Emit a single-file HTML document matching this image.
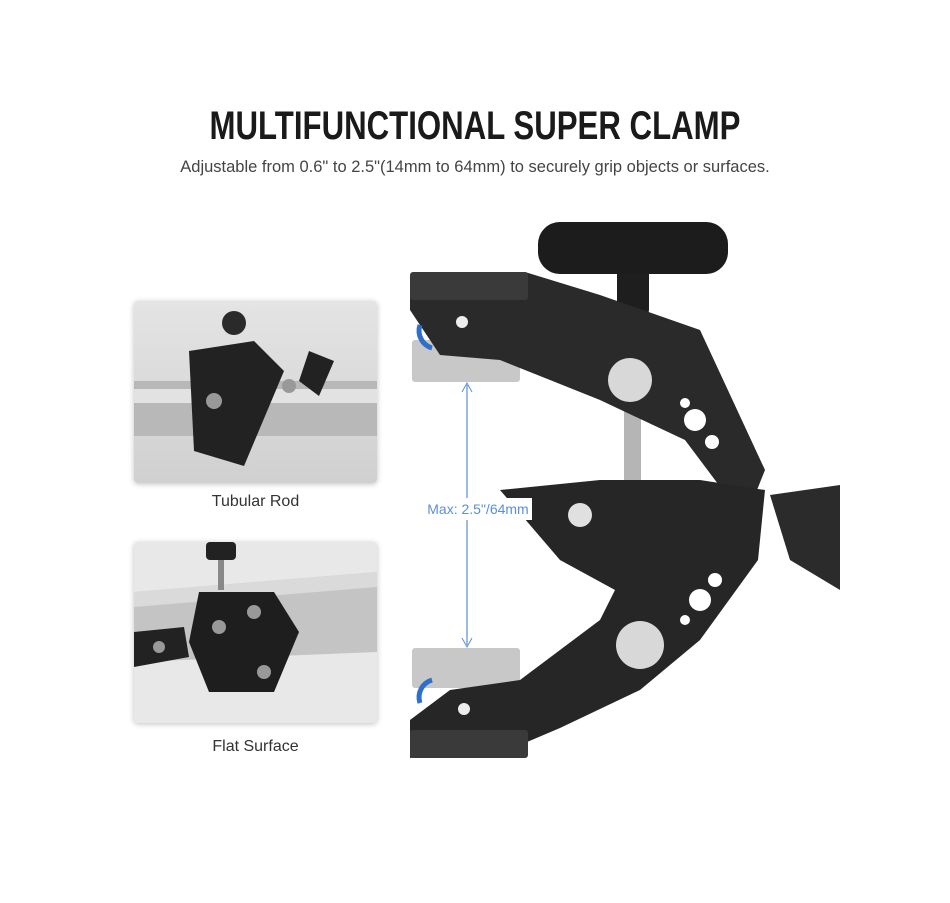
<!DOCTYPE html>
<html><head><meta charset="utf-8"><style>
body{margin:0;background:#fff;width:950px;height:903px;overflow:hidden;font-family:"Liberation Sans",sans-serif;position:relative}
.t{position:absolute;left:0;width:950px;text-align:center}
.card{position:absolute;left:134px;width:243px;border-radius:4px;box-shadow:0 1px 6px rgba(0,0,0,.25);overflow:hidden}
</style></head><body>
<div class="t" style="top:104px;font-size:40px;font-weight:bold;color:#1a1a1a;transform:scaleX(.78)">MULTIFUNCTIONAL SUPER CLAMP</div>
<div class="t" style="top:158px;font-size:16.5px;color:#444">Adjustable from 0.6" to 2.5"(14mm to 64mm) to securely grip objects or surfaces.</div>

<div class="card" style="top:301px;height:182px;background:linear-gradient(#e4e4e4,#d0d0d0)">
<svg width="243" height="182">
<rect x="0" y="80" width="243" height="55" fill="#b8b8b8"/><rect x="0" y="88" width="243" height="14" fill="#e2e2e2"/>
<path d="M55 50 L120 40 L150 70 L110 165 L60 150 Z" fill="#222"/>
<path d="M175 50 L200 60 L185 95 L165 80Z" fill="#222"/>
<circle cx="100" cy="22" r="12" fill="#2a2a2a"/><circle cx="80" cy="100" r="8" fill="#999"/><circle cx="155" cy="85" r="7" fill="#999"/>
</svg></div>
<div class="t" style="left:134px;width:243px;top:493px;font-size:16px;color:#333">Tubular Rod</div>

<div class="card" style="top:542px;height:181px;background:#e8e8e8">
<svg width="243" height="181">
<path d="M0 50 L243 30 L243 110 L0 120Z" fill="#c4c4c4"/><path d="M0 50 L243 30 L243 45 L0 65Z" fill="#dadada"/>
<rect x="72" y="0" width="30" height="18" rx="4" fill="#222"/><rect x="84" y="18" width="6" height="30" fill="#888"/>
<path d="M65 50 L140 50 L165 90 L140 150 L75 150 L55 100Z" fill="#1e1e1e"/>
<path d="M0 90 L50 85 L55 115 L0 125Z" fill="#222"/>
<circle cx="85" cy="85" r="7" fill="#999"/><circle cx="120" cy="70" r="7" fill="#999"/><circle cx="130" cy="130" r="7" fill="#999"/><circle cx="25" cy="105" r="6" fill="#999"/>
</svg></div>
<div class="t" style="left:134px;width:243px;top:738px;font-size:16px;color:#333">Flat Surface</div>

<svg style="position:absolute;left:0;top:0" width="950" height="903">
<rect x="412" y="340" width="108" height="42" rx="3" fill="#c8c8c8"/>
<rect x="412" y="648" width="108" height="40" rx="3" fill="#c8c8c8"/>
<line x1="467" y1="385" x2="467" y2="645" stroke="#5b8fd6" stroke-width="1.2"/>
<path d="M462 392 L467 383 L472 392" fill="none" stroke="#5b8fd6"/>
<path d="M462 638 L467 647 L472 638" fill="none" stroke="#5b8fd6"/>
<rect x="624" y="300" width="17" height="310" fill="#b5b5b5"/>
<rect x="617" y="255" width="32" height="60" rx="5" fill="#1e1e1e"/>
<rect x="538" y="222" width="190" height="52" rx="22" fill="#1c1c1c"/>
<path d="M770 495 L840 485 L840 590 L790 560Z" fill="#2b2b2b"/>
<!-- top arm -->
<path d="M410 275 L525 272 L600 295 L700 330 L765 470 L745 520 L685 440 L600 400 L500 360 L440 355 L410 310Z" fill="#2a2a2a"/>
<rect x="410" y="272" width="118" height="28" rx="3" fill="#3a3a3a"/>
<!-- bottom arm -->
<path d="M500 490 L600 480 L700 480 L765 490 L758 560 L700 640 L640 690 L560 728 L520 745 L410 758 L410 720 L450 690 L520 680 L600 620 L615 590 L560 560Z" fill="#262626"/>
<rect x="410" y="730" width="118" height="28" rx="3" fill="#3a3a3a"/>
<rect x="420" y="498" width="112" height="22" fill="#fff"/>
<text x="478" y="514" font-size="14" fill="#5b8fd6" text-anchor="middle" font-family="Liberation Sans">Max: 2.5"/64mm</text>
<circle cx="630" cy="380" r="22" fill="#d8d8d8"/><circle cx="640" cy="645" r="24" fill="#d8d8d8"/>
<circle cx="695" cy="420" r="11" fill="#fff"/><circle cx="712" cy="442" r="7" fill="#fff"/><circle cx="685" cy="403" r="5" fill="#fff"/>
<circle cx="700" cy="600" r="11" fill="#fff"/><circle cx="715" cy="580" r="7" fill="#fff"/><circle cx="685" cy="620" r="5" fill="#fff"/>
<circle cx="580" cy="515" r="12" fill="#e0e0e0"/><circle cx="462" cy="322" r="6" fill="#eee"/><circle cx="464" cy="709" r="6" fill="#eee"/>
<path d="M432 348 A18 18 0 0 1 420 325" fill="none" stroke="#2f6fc7" stroke-width="5"/>
<path d="M432 680 A18 18 0 0 0 420 703" fill="none" stroke="#2f6fc7" stroke-width="5"/>
</svg>
</body></html>
